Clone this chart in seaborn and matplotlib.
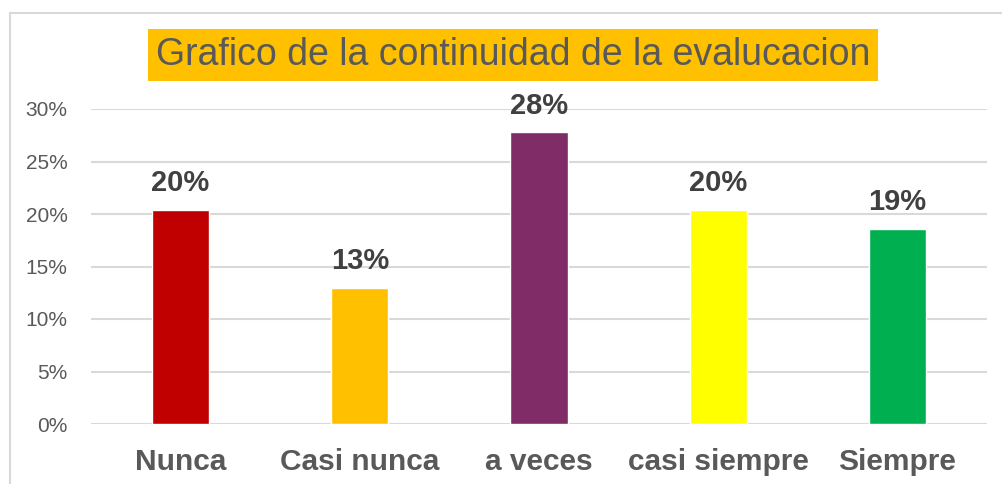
import matplotlib
matplotlib.use("Agg")
import matplotlib.pyplot as plt
from matplotlib.lines import Line2D
from matplotlib.ticker import FuncFormatter
import seaborn as sns
import pandas as pd

# datos
categorias = ["Nunca", "Casi nunca", "a veces", "casi siempre", "Siempre"]
valores = [0.204, 0.130, 0.278, 0.204, 0.186]
colores = ["#C00000", "#FFC000", "#7F2C67", "#FFFF00", "#00B050"]
titulo = "Grafico de la continuidad de la evalucacion"

df = pd.DataFrame({"cat": categorias, "val": valores})

sns.set_theme(style="white")
plt.rcParams["font.family"] = ["Liberation Sans", "DejaVu Sans"]

W, H = 1002, 484
fig = plt.figure(figsize=(W / 100, H / 100), dpi=100)
ax = fig.add_axes([91 / W, (H - 424) / H, (987 - 91) / W, (424 - 109) / H])

sns.barplot(data=df, x="cat", y="val", hue="cat", palette=colores,
            width=0.32, legend=False, ax=ax, saturation=1)

ax.set_ylim(0, 0.30)
ax.set_yticks([0, 0.05, 0.10, 0.15, 0.20, 0.25, 0.30])
ax.yaxis.set_major_formatter(FuncFormatter(lambda v, p: f"{v:.0%}"))
ax.yaxis.grid(True, color="#D9D9D9", linewidth=1.5)
ax.set_axisbelow(True)
for s in ax.spines.values():
    s.set_visible(False)
ax.set_xlabel("")
ax.set_ylabel("")
ax.tick_params(axis="y", length=0, pad=17, labelsize=15, labelcolor="#595959")
ax.tick_params(axis="x", length=0, pad=17, labelcolor="#595959")
for t in ax.get_xticklabels():
    t.set_fontsize(21.5)
    t.set_fontweight("bold")

for c in ax.containers:
    ax.bar_label(c, labels=[f"{v:.0%}" for v in c.datavalues], padding=9,
                 fontsize=21, fontweight="bold", color="#404040")

fig.text(513 / W, 1 - 55 / H, titulo, ha="center", va="center",
         fontsize=27, color="#595959",
         bbox=dict(facecolor="#FFC000", edgecolor="none", pad=6))

# marco del grafico
fig.add_artist(Line2D([9.5 / W, 9.5 / W], [0, 1 - 12.5 / H], color="#D9D9D9", lw=1.5))
fig.add_artist(Line2D([9.5 / W, 1], [1 - 12.5 / H, 1 - 12.5 / H], color="#D9D9D9", lw=1.5))

fig.savefig("out.png", dpi=100, facecolor="white")
